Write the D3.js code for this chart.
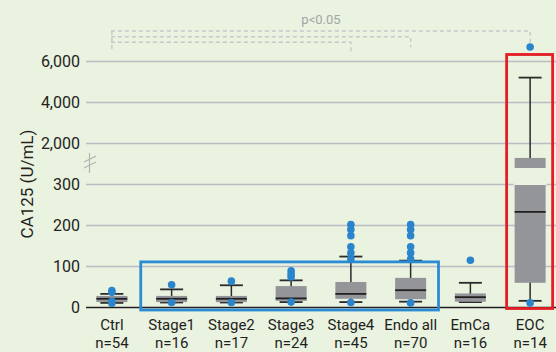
<!DOCTYPE html>
<html>
<head>
<meta charset="utf-8">
<script src="https://cdn.jsdelivr.net/npm/d3@7"></script>
<style>
  body { margin: 0; background: #eaf2e0; }
  svg { display: block; font-family: Roboto, "Open Sans", sans-serif; }
</style>
</head>
<body>
<svg id="chart"></svg>
<script>
// groups and sample sizes
const categories = ["Ctrl", "Stage1", "Stage2", "Stage3", "Stage4", "Endo all", "EmCa", "EOC"]
const counts = [54, 16, 17, 24, 45, 70, 16, 14]

// box stats (U/mL)
const whiskerLow = [10, 11, 11, 12, 12, 13, 12, 15]
const q1 = [12, 12, 12, 15, 20, 19, 13, 59]
const median = [20, 20, 20, 21, 32, 41, 24, 232]
const q3 = [27, 27, 27, 51, 61, 71, 33, 1380]
const whiskerHigh = [32, 43, 53, 65, 123, 113, 59, 5190]
const outliers = [
  [40, 36, 14, 9],
  [54, 11],
  [63, 11],
  [88, 80, 73, 12],
  [201, 189, 174, 147, 132, 117, 11],
  [201, 189, 174, 147, 132, 117, 10],
  [114],
  [6680, 10]
]

const tickValues = [0, 100, 200, 300, 2000, 4000, 6000]
const breakValue = 300

// comparisons drawn as dashed brackets (from Ctrl)
const comparisons = ["EOC", "Endo all", "Stage4"]

const width = 556
const height = 352
const bg = "#eaf2e0"

const svg = d3.select("#chart")
  .attr("width", width)
  .attr("height", height)

svg.append("rect").attr("width", width).attr("height", height).attr("fill", bg)

// broken axis: 0-300 linear, then 2000-6000 with the same tick spacing
const y0 = 307, step = 41
const y = d3.scaleLinear()
  .domain([0, 300, 2000, 6000])
  .range([y0, y0 - 3 * step, y0 - 4 * step, y0 - 6 * step])

const x = d3.scaleBand()
  .domain(categories)
  .range([82, 560])
  .padding(0)

const bw = x.bandwidth()
const boxW = 31
const capW = 23
const cx = d => x(d) + bw / 2

// y axis with grid lines
const gridLeft = 86
const yAxis = svg.append("g")
  .attr("transform", "translate(" + gridLeft + ",0)")
  .call(d3.axisLeft(y)
    .tickValues(tickValues)
    .tickFormat(d3.format(","))
    .tickSizeInner(-(width - gridLeft))
    .tickSizeOuter(0)
    .tickPadding(6))

yAxis.select(".domain").remove()
yAxis.selectAll(".tick line")
  .attr("stroke", d => d === 0 ? "#231f20" : "#babcc2")
  .attr("stroke-width", d => d === 0 ? 1.5 : 1.3)
yAxis.selectAll(".tick text")
  .attr("fill", "#231f20")
  .style("font-size", "16px")
  .style("font-family", "Roboto, sans-serif")

// axis break mark
const brk = svg.append("g")
  .attr("stroke", "#b3b3b3")
  .attr("stroke-width", 1.2)
  .attr("fill", "none")
brk.append("line").attr("x1", 89.5).attr("x2", 89.5).attr("y1", 153).attr("y2", 173)
brk.append("line").attr("x1", 84).attr("x2", 96).attr("y1", 162).attr("y2", 156)
brk.append("line").attr("x1", 84).attr("x2", 96).attr("y1", 168).attr("y2", 162)

// y title
svg.append("text")
  .attr("transform", "translate(33," + 184 + ") rotate(-90)")
  .attr("text-anchor", "middle")
  .attr("fill", "#231f20")
  .style("font-size", "17px")
  .text("CA125 (U/mL)")

// x labels, two lines
const xAxis = svg.append("g")
  .attr("transform", "translate(0," + 318 + ")")
  .call(d3.axisBottom(x).tickSize(0).tickPadding(0))
xAxis.select(".domain").remove()
xAxis.selectAll(".tick text").each(function (d, i) {
  const t = d3.select(this)
  t.text(null)
    .attr("y", 0)
    .attr("dy", null)
    .attr("fill", "#231f20")
    .style("font-size", "15px")
    .style("font-family", "Roboto, sans-serif")
  t.append("tspan").attr("x", 0).attr("y", 11.5).text(d)
  t.append("tspan").attr("x", 0).attr("y", 29.5).text("n=" + counts[i])
})

// significance brackets
const bracketY = [31, 36.7, 42.3]
const dropY = [43, 47.3, 52.3]
const br = svg.append("g")
  .attr("fill", "none")
  .attr("stroke", "#c6c8ca")
  .attr("stroke-width", 1.4)
  .attr("stroke-dasharray", "4,3")
comparisons.forEach((c, i) => {
  br.append("path")
    .attr("d", "M" + cx("Ctrl") + "," + (bracketY[i] + 1) + "V" + bracketY[i] + "H" + cx(c) + "V" + dropY[i])
})
br.append("line")
  .attr("x1", cx("Ctrl")).attr("x2", cx("Ctrl"))
  .attr("y1", bracketY[0]).attr("y2", 52)

svg.append("text")
  .attr("x", 321)
  .attr("y", 24)
  .attr("text-anchor", "middle")
  .attr("fill", "#a3a5a8")
  .style("font-size", "13px")
  .text("p<0.05")

// boxes
const boxes = svg.append("g")
categories.forEach((c, i) => {
  const g = boxes.append("g")
  const mx = cx(c)
  g.append("line")
    .attr("x1", mx).attr("x2", mx)
    .attr("y1", y(whiskerHigh[i])).attr("y2", y(whiskerLow[i]))
    .attr("stroke", "#2b2b2b").attr("stroke-width", 1.5)
  ;[whiskerHigh[i], whiskerLow[i]].forEach(v => {
    g.append("line")
      .attr("x1", mx - capW / 2).attr("x2", mx + capW / 2)
      .attr("y1", y(v)).attr("y2", y(v))
      .attr("stroke", "#2b2b2b").attr("stroke-width", 1.8)
  })
  g.append("rect")
    .attr("x", mx - boxW / 2)
    .attr("width", boxW)
    .attr("y", y(q3[i]))
    .attr("height", y(q1[i]) - y(q3[i]))
    .attr("fill", "#939598")
  if (q3[i] > breakValue) {
    g.append("rect")
      .attr("x", mx - boxW / 2 - 1)
      .attr("width", boxW + 2)
      .attr("y", y(breakValue) - 16)
      .attr("height", 17)
      .attr("fill", bg)
  }
  g.append("line")
    .attr("x1", mx - boxW / 2).attr("x2", mx + boxW / 2)
    .attr("y1", y(median[i])).attr("y2", y(median[i]))
    .attr("stroke", "#231f20").attr("stroke-width", 1.8)
})

// highlight frames
svg.append("rect")
  .attr("x", x("Stage1") - 1)
  .attr("y", y(110))
  .attr("width", x("Endo all") + bw - 2 - (x("Stage1") - 1))
  .attr("height", y(0) + 3 - y(110))
  .attr("fill", "none")
  .attr("stroke", "#2b8bd3")
  .attr("stroke-width", 2.8)

svg.append("rect")
  .attr("x", cx("EOC") - 23.5)
  .attr("y", 54.5)
  .attr("width", 46)
  .attr("height", y(0) + 1.5 - 54.5)
  .attr("fill", "none")
  .attr("stroke", "#e31e24")
  .attr("stroke-width", 2.8)

// outlier dots
const pts = []
outliers.forEach((list, i) => list.forEach(v => pts.push({ c: categories[i], v: v })))
svg.append("g")
  .selectAll("circle")
  .data(pts)
  .join("circle")
  .attr("cx", d => cx(d.c))
  .attr("cy", d => y(d.v))
  .attr("r", 3.8)
  .attr("fill", "#2a85cc")
</script>
</body>
</html>
